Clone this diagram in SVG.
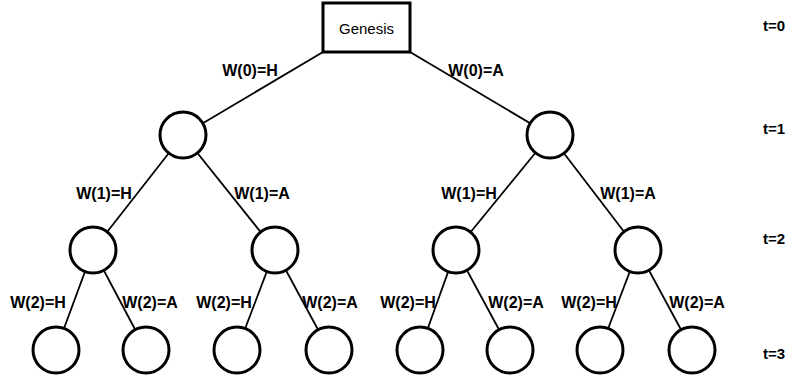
<svg xmlns="http://www.w3.org/2000/svg" width="791" height="381" viewBox="0 0 791 381">
<style>
.n{fill:#fff;stroke:#000;stroke-width:3}
.e{stroke:#000;stroke-width:1.8;fill:none}
.l{font-family:"Liberation Sans",Arial,sans-serif;font-weight:bold;font-size:16px;fill:#000;text-anchor:middle;dominant-baseline:central}
.g{font-family:"Liberation Sans",Arial,sans-serif;font-size:15px;fill:#000;text-anchor:middle;dominant-baseline:central}
.t{font-family:"Liberation Sans",Arial,sans-serif;font-weight:bold;font-size:15px;fill:#000;dominant-baseline:central}
</style>
<rect width="791" height="381" fill="#fff"/>
<g id="connectors">
<line class="e" x1="323" y1="52" x2="183" y2="135"/>
<line class="e" x1="410" y1="52" x2="550" y2="135"/>
<line class="e" x1="183" y1="135" x2="93" y2="250"/>
<line class="e" x1="183" y1="135" x2="275" y2="250"/>
<line class="e" x1="550" y1="135" x2="456" y2="250"/>
<line class="e" x1="550" y1="135" x2="638" y2="250"/>
<line class="e" x1="93" y1="250" x2="56" y2="350"/>
<line class="e" x1="93" y1="250" x2="146" y2="350"/>
<line class="e" x1="275" y1="250" x2="237" y2="350"/>
<line class="e" x1="275" y1="250" x2="329" y2="350"/>
<line class="e" x1="456" y1="250" x2="420" y2="350"/>
<line class="e" x1="456" y1="250" x2="510" y2="350"/>
<line class="e" x1="638" y1="250" x2="600" y2="350"/>
<line class="e" x1="638" y1="250" x2="692" y2="350"/>
</g>
<g id="edge-labels">
<text class="l" x="250" y="70">W(0)=H</text>
<text class="l" x="476" y="70">W(0)=A</text>
<text class="l" x="104" y="193">W(1)=H</text>
<text class="l" x="262" y="193">W(1)=A</text>
<text class="l" x="469" y="193">W(1)=H</text>
<text class="l" x="628" y="193">W(1)=A</text>
<text class="l" x="38" y="302">W(2)=H</text>
<text class="l" x="150" y="302">W(2)=A</text>
<text class="l" x="224" y="302">W(2)=H</text>
<text class="l" x="330" y="302">W(2)=A</text>
<text class="l" x="408" y="302">W(2)=H</text>
<text class="l" x="516" y="302">W(2)=A</text>
<text class="l" x="589" y="302">W(2)=H</text>
<text class="l" x="697" y="302">W(2)=A</text>
</g>
<g id="genesis">
<rect class="n" x="323" y="3" width="87" height="49"/>
<text class="g" x="366.5" y="28">Genesis</text>
</g>
<g id="n1a"><circle class="n" cx="183" cy="135" r="23"/></g>
<g id="n1b"><circle class="n" cx="550" cy="135" r="23"/></g>
<g id="n2a"><circle class="n" cx="93" cy="250" r="23"/></g>
<g id="n2b"><circle class="n" cx="275" cy="250" r="23"/></g>
<g id="n2c"><circle class="n" cx="456" cy="250" r="23"/></g>
<g id="n2d"><circle class="n" cx="638" cy="250" r="23"/></g>
<g id="n3a"><circle class="n" cx="56" cy="350" r="23"/></g>
<g id="n3b"><circle class="n" cx="146" cy="350" r="23"/></g>
<g id="n3c"><circle class="n" cx="237" cy="350" r="23"/></g>
<g id="n3d"><circle class="n" cx="329" cy="350" r="23"/></g>
<g id="n3e"><circle class="n" cx="420" cy="350" r="23"/></g>
<g id="n3f"><circle class="n" cx="510" cy="350" r="23"/></g>
<g id="n3g"><circle class="n" cx="600" cy="350" r="23"/></g>
<g id="n3h"><circle class="n" cx="692" cy="350" r="23"/></g>
<g id="time-labels">
<text class="t" x="763" y="25">t=0</text>
<text class="t" x="763" y="128">t=1</text>
<text class="t" x="763" y="238">t=2</text>
<text class="t" x="763" y="353">t=3</text>
</g>
</svg>
